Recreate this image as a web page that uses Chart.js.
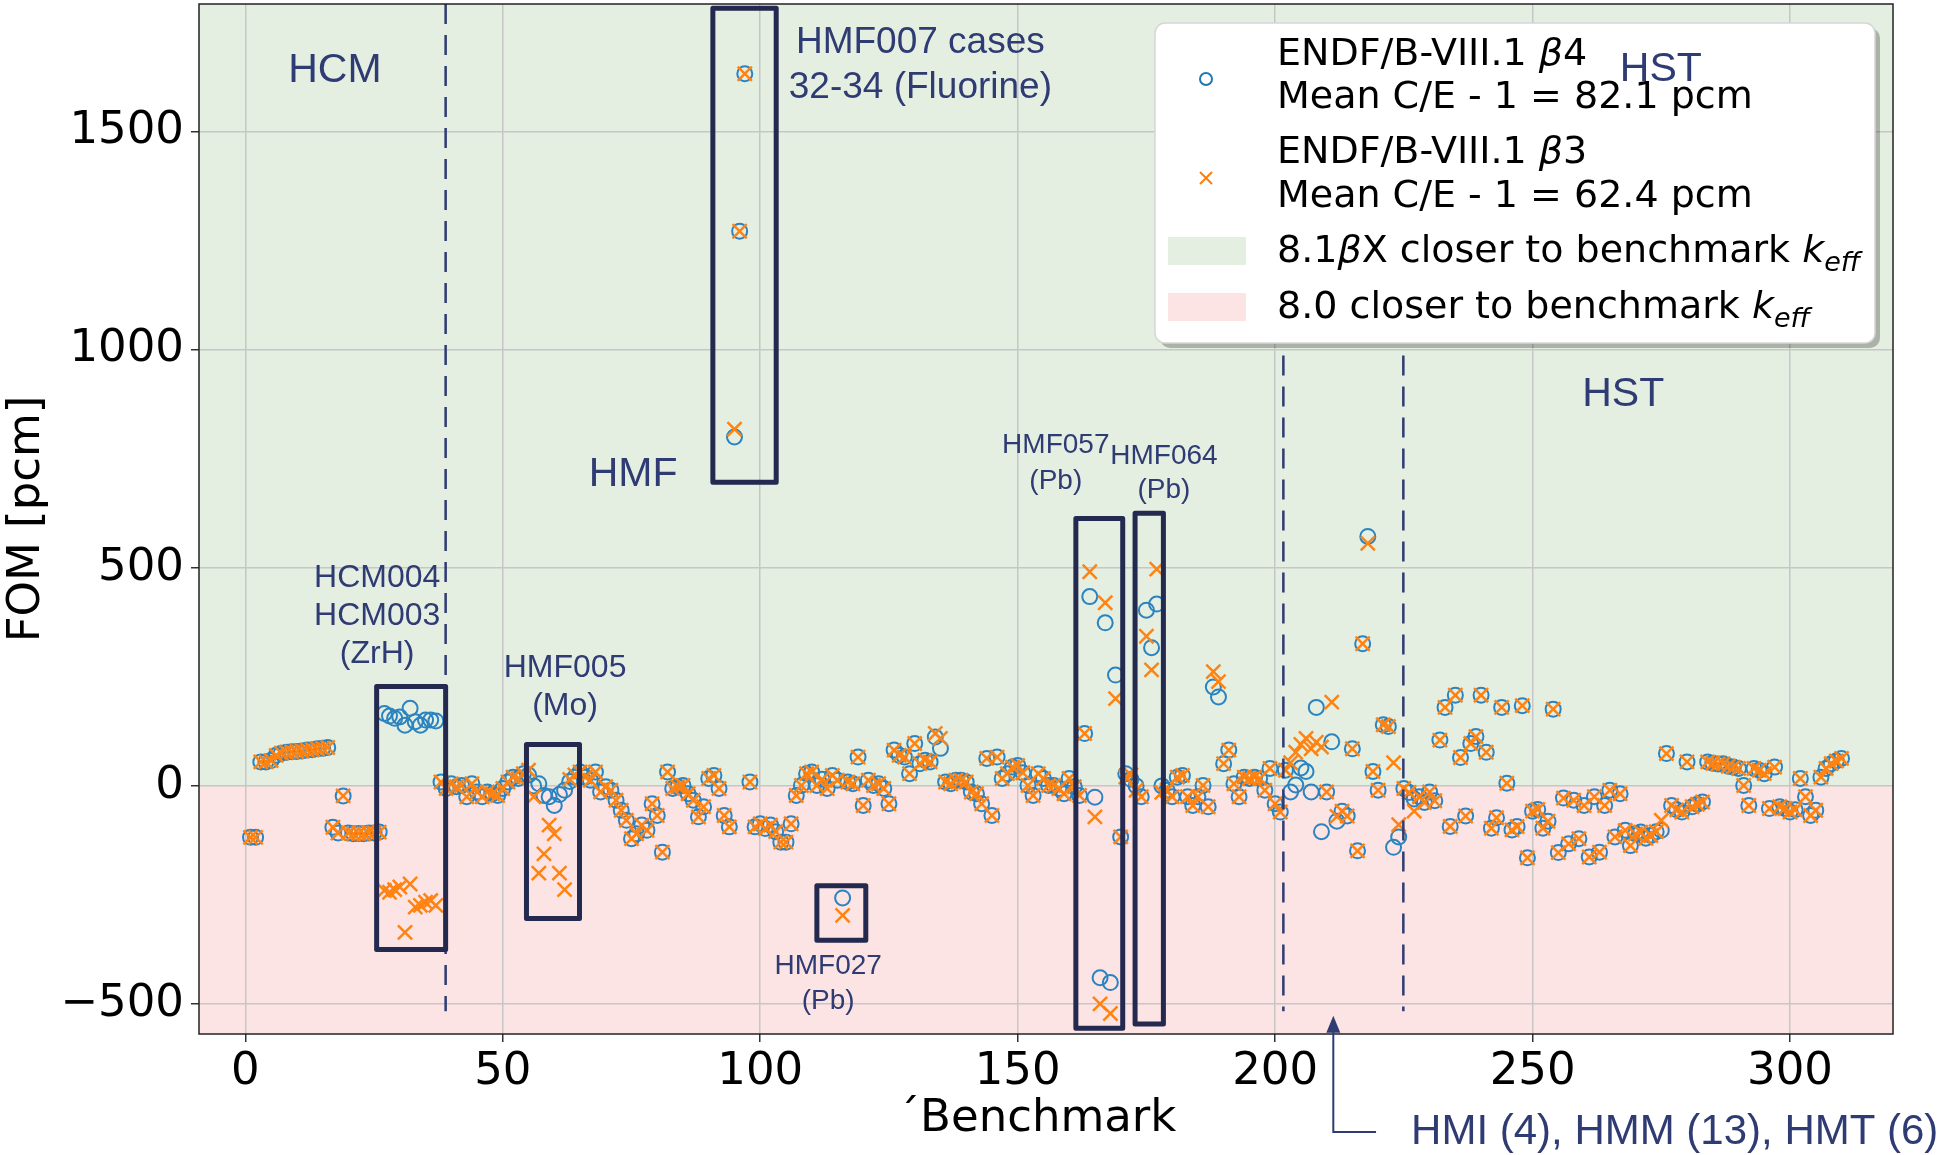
<!DOCTYPE html>
<html>
<head>
<meta charset="utf-8">
<script src="https://cdn.jsdelivr.net/npm/chart.js@4.4.1/dist/chart.umd.min.js"></script>
<style>
  html, body { margin: 0; padding: 0; background: #fff; }
  canvas { display: block; }
</style>
</head>
<body>
<canvas id="fom-chart" width="1946" height="1155"></canvas>
<script>
// FOM [pcm] per benchmark (benchmark number = index + 1)
const fomBeta4 = [
  -118, -118, 55, 55, 58, 70, 75, 77, 78, 79, 80, 82, 83, 85, 86, 88, -95, -108, -23, -108,
  -110, -109, -110, -108, -108, -106, 166, 160, 155, 158, 139, 178, 147, 139, 151, 151, 149, 9, -6, 5,
  -2, 1, -25, 5, -14, -25, -14, -18, -22, -6, 9, 20, 17, 28, 25, 0, 5, -22, -25, -45,
  -20, -10, 10, 20, 32, 20, 13, 32, -14, -2, -10, -33, -56, -79, -121, -110, -90, -102, -41, -68,
  -152, 32, -6, -2, 1, -18, -33, -71, -48, 17, 24, -6, -68, -94, 800, 1272, 1633, 9, -94, -87,
  -98, -90, -105, -129, -129, -87, -22, 1, 28, 32, 1, 15, -6, 24, 13, -257, 9, 5, 66, -45,
  13, 1, 5, -6, -41, 82, 70, 66, 28, 97, 51, 59, 55, 112, 86, 9, 5, 13, 13, 9,
  -14, -18, -41, 63, -68, 66, 17, 28, 43, 47, 30, 1, -22, 28, 17, 1, 1, -6, -18, 17,
  -2, -22, 120, 434, -26, -440, 374, -451, 254, -117, 28, 15, 0, -25, 403, 317, 417, 0, -10, -25,
  20, 24, -25, -45, -25, 1, -48, 227, 204, 51, 82, 5, -25, 20, 17, 20, 17, -10, 40, -41,
  -60, 36, -14, 2, 41, 33, -14, 180, -105, -14, 101, -81, -58, -69, 85, -149, 326, 572, 33, -10,
  140, 136, -141, -117, -6, -15, -30, -25, -38, -14, -34, 105, 180, -93, 208, 65, -69, 97, 113, 208,
  77, -97, -73, 180, 6, -101, -93, 184, -165, -58, -54, -97, -81, 176, -153, -28, -133, -33, -121, -45,
  -163, -25, -152, -45, -10, -117, -18, -102, -137, -110, -106, -120, -114, -105, -102, 74, -45, -55, -60, 55,
  -48, -42, -37, 55, 52, 50, 51, 45, 43, 40, 1, -45, 40, 36, 28, -52, 43, -48, -52, -60,
  -55, 17, -25, -68, -56, 20, 40, 51, 57, 63
];
const fomBeta3 = [
  -118, -118, 55, 55, 58, 70, 75, 77, 78, 79, 80, 82, 83, 85, 86, 88, -95, -108, -23, -108,
  -110, -109, -110, -108, -108, -106, -240, -244, -238, -232, -336, -225, -278, -274, -267, -263, -274, 9, -6, 5,
  -2, 1, -25, 5, -14, -25, -14, -18, -22, -6, 9, 20, 17, 28, 36, -25, -200, -156, -90, -110,
  -200, -238, 15, 25, 32, 20, 13, 32, -14, -2, -10, -33, -56, -79, -121, -110, -90, -102, -41, -68,
  -152, 32, -6, -2, 1, -18, -33, -71, -48, 17, 24, -6, -68, -94, 818, 1272, 1633, 9, -94, -87,
  -98, -90, -105, -129, -129, -87, -22, 1, 28, 32, 1, 15, -6, 24, 13, -297, 9, 5, 66, -45,
  13, 1, 5, -6, -41, 82, 70, 66, 28, 97, 51, 59, 55, 120, 109, 9, 5, 13, 13, 9,
  -14, -18, -41, 63, -68, 66, 17, 28, 43, 47, 30, 1, -22, 28, 17, 1, 1, -6, -18, 17,
  -2, -22, 120, 491, -71, -500, 420, -522, 200, -117, 20, 25, -10, -25, 343, 266, 497, -15, -10, -25,
  20, 24, -25, -45, -25, 1, -48, 262, 239, 51, 82, 5, -25, 20, 17, 20, 17, -10, 40, -41,
  -60, 36, 53, 77, 95, 109, 85, 100, 89, -14, 192, -70, -58, -69, 85, -149, 326, 556, 33, -10,
  140, 136, 53, -89, -6, -15, -58, -25, -38, -14, -34, 105, 180, -93, 208, 65, -69, 97, 113, 208,
  77, -97, -73, 180, 6, -101, -93, 184, -165, -58, -54, -97, -81, 176, -153, -28, -133, -33, -121, -45,
  -163, -25, -152, -45, -10, -117, -18, -102, -137, -110, -106, -120, -114, -105, -79, 74, -45, -55, -60, 55,
  -48, -42, -37, 55, 52, 50, 51, 45, 43, 40, 1, -45, 40, 36, 28, -52, 43, -48, -52, -60,
  -55, 17, -25, -68, -56, 20, 40, 51, 57, 63
];
const seriesNames = [
  ['ENDF/B-VIII.1 ', '4', 'Mean C/E - 1 = 82.1 pcm'],
  ['ENDF/B-VIII.1 ', '3', 'Mean C/E - 1 = 62.4 pcm']
];
const xTicks = [0, 50, 100, 150, 200, 250, 300];
const yTicks = [-500, 0, 500, 1000, 1500];

// annotations, in data units
const regionLabels = [
  { lines: ['HCM'], x: 17.4, y: 1640, size: 41 },
  { lines: ['HMF'], x: 75.3, y: 713, size: 41 },
  { lines: ['HST'], x: 267.6, y: 898, size: 41 },
  { lines: ['HMF007 cases', '32-34 (Fluorine)'], x: 131.1, y: 1703, size: 37, gap: 103 },
  { lines: ['HCM004', 'HCM003', '(ZrH)'], x: 25.6, y: 477, size: 32, gap: 88 },
  { lines: ['HMF005', '(Mo)'], x: 62.1, y: 270, size: 32, gap: 88 },
  { lines: ['HMF057', '(Pb)'], x: 157.4, y: 781, size: 28, gap: 83 },
  { lines: ['HMF064', '(Pb)'], x: 178.4, y: 756, size: 28, gap: 77 },
  { lines: ['HMF027', '(Pb)'], x: 113.2, y: -414, size: 28, gap: 79 }
];
const boxes = [
  [25.5, 38.9, 228, -375],
  [54.6, 64.9, 95, -304],
  [90.8, 103.1, 1783, 696],
  [111.0, 120.5, -229, -354],
  [161.3, 170.4, 613, -556],
  [172.8, 178.3, 625, -546]
];
const dividers = [
  [38.9, 1793, -517],
  [201.6, 987, -517],
  [224.9, 987, -517]
];

const navy = '#2f3b73';
const boxColor = '#23294f';
const greenZone = '#e4efe2';
const pinkZone = '#fde4e4';

function textRuns(ctx, runs, x, y) {
  let cx = x;
  runs.forEach(r => {
    ctx.font = r.font;
    ctx.fillText(r.t, cx, y + (r.dy || 0));
    cx += ctx.measureText(r.t).width;
  });
}

function roundRect(ctx, x, y, w, h, r) {
  ctx.beginPath();
  ctx.moveTo(x + r, y);
  ctx.arcTo(x + w, y, x + w, y + h, r);
  ctx.arcTo(x + w, y + h, x, y + h, r);
  ctx.arcTo(x, y + h, x, y, r);
  ctx.arcTo(x, y, x + w, y, r);
  ctx.closePath();
}

function drawLegend(ctx) {
  const bx = 1155, by = 23, bw = 720, bh = 320;
  ctx.save();
  ctx.fillStyle = 'rgba(0,0,0,0.25)';
  roundRect(ctx, bx + 5, by + 5, bw, bh, 10);
  ctx.fill();
  ctx.fillStyle = '#fff';
  roundRect(ctx, bx, by, bw, bh, 10);
  ctx.fill();
  ctx.strokeStyle = '#d6d6d6';
  ctx.lineWidth = 1.5;
  ctx.stroke();

  const fs = 38;
  const reg = fs + 'px "DejaVu Sans"';
  const ita = 'italic ' + fs + 'px "DejaVu Sans"';
  const sub = 'italic 27px "DejaVu Sans"';
  const tx = 1277;
  ctx.fillStyle = '#000';
  ctx.textBaseline = 'alphabetic';
  ctx.textAlign = 'left';

  // blue circle
  ctx.strokeStyle = '#1f77b4';
  ctx.lineWidth = 2;
  ctx.beginPath();
  ctx.arc(1206, 79, 6, 0, Math.PI * 2);
  ctx.stroke();
  textRuns(ctx, [{ t: seriesNames[0][0], font: reg }, { t: '\u03b2', font: ita }, { t: seriesNames[0][1], font: reg }], tx, 65);
  textRuns(ctx, [{ t: seriesNames[0][2], font: reg }], tx, 108);

  // orange cross
  ctx.strokeStyle = '#ff7f0e';
  ctx.lineWidth = 2;
  ctx.beginPath();
  ctx.moveTo(1200, 172); ctx.lineTo(1212, 184);
  ctx.moveTo(1212, 172); ctx.lineTo(1200, 184);
  ctx.stroke();
  textRuns(ctx, [{ t: seriesNames[1][0], font: reg }, { t: '\u03b2', font: ita }, { t: seriesNames[1][1], font: reg }], tx, 163);
  textRuns(ctx, [{ t: seriesNames[1][2], font: reg }], tx, 207);

  ctx.fillStyle = greenZone;
  ctx.fillRect(1168, 237, 78, 28);
  ctx.fillStyle = pinkZone;
  ctx.fillRect(1168, 293, 78, 28);
  ctx.fillStyle = '#000';
  textRuns(ctx, [{ t: '8.1', font: reg }, { t: '\u03b2', font: ita }, { t: 'X closer to benchmark ', font: reg },
    { t: 'k', font: ita }, { t: 'eff', font: sub, dy: 9 }], tx, 262);
  textRuns(ctx, [{ t: '8.0 closer to benchmark ', font: reg },
    { t: 'k', font: ita }, { t: 'eff', font: sub, dy: 9 }], tx, 318);
  ctx.restore();
}

const decor = {
  id: 'decor',
  beforeDraw(chart) {
    const { ctx, chartArea: a, scales: { y } } = chart;
    const y0 = y.getPixelForValue(0);
    ctx.save();
    ctx.fillStyle = greenZone;
    ctx.fillRect(a.left, a.top, a.right - a.left, y0 - a.top);
    ctx.fillStyle = pinkZone;
    ctx.fillRect(a.left, y0, a.right - a.left, a.bottom - y0);
    ctx.restore();
  },
  afterDatasetsDraw(chart) {
    const { ctx, scales: { x, y } } = chart;
    ctx.save();
    // dashed separators
    ctx.strokeStyle = navy;
    ctx.lineWidth = 2.5;
    ctx.setLineDash([20, 11]);
    dividers.forEach(d => {
      const px = x.getPixelForValue(d[0]);
      ctx.beginPath();
      ctx.moveTo(px, y.getPixelForValue(d[1]));
      ctx.lineTo(px, y.getPixelForValue(d[2]));
      ctx.stroke();
    });
    ctx.setLineDash([]);
    // boxes
    ctx.strokeStyle = boxColor;
    ctx.lineWidth = 5;
    ctx.lineJoin = 'round';
    boxes.forEach(b => {
      const x0 = x.getPixelForValue(b[0]), x1 = x.getPixelForValue(b[1]);
      const y0 = y.getPixelForValue(b[2]), y1 = y.getPixelForValue(b[3]);
      ctx.strokeRect(x0, y0, x1 - x0, y1 - y0);
    });
    // labels
    ctx.fillStyle = navy;
    ctx.textAlign = 'center';
    ctx.textBaseline = 'middle';
    regionLabels.forEach(l => {
      ctx.font = l.size + 'px "Liberation Sans", Arial, sans-serif';
      l.lines.forEach((t, i) => {
        ctx.fillText(t, x.getPixelForValue(l.x), y.getPixelForValue(l.y - i * (l.gap || 0)));
      });
    });
    ctx.restore();
  },
  afterDraw(chart) {
    const { ctx, chartArea: a, scales: { x, y } } = chart;
    ctx.save();
    ctx.strokeStyle = '#222';
    ctx.lineWidth = 1.5;
    ctx.strokeRect(a.left, a.top, a.right - a.left, a.bottom - a.top);
    drawLegend(ctx);

    ctx.fillStyle = navy;
    ctx.textAlign = 'center';
    ctx.textBaseline = 'middle';
    ctx.font = '41px "Liberation Sans", Arial, sans-serif';
    ctx.fillText('HST', x.getPixelForValue(274.9), y.getPixelForValue(1643));

    // x axis title, sits a little left of the plot centre
    ctx.fillStyle = '#000';
    ctx.font = '45px "DejaVu Sans"';
    ctx.fillText('\u00b4Benchmark', 1037, 1119);

    // arrow note for the HMI / HMM / HMT group
    const ax = x.getPixelForValue(211.3);
    const tipY = y.getPixelForValue(-527);
    const rowY = a.bottom + 98;
    ctx.fillStyle = navy;
    ctx.strokeStyle = navy;
    ctx.lineWidth = 2;
    ctx.beginPath();
    ctx.moveTo(x.getPixelForValue(219.6), rowY);
    ctx.lineTo(ax, rowY);
    ctx.lineTo(ax, tipY + 14);
    ctx.stroke();
    ctx.beginPath();
    ctx.moveTo(ax, tipY);
    ctx.lineTo(ax - 7, tipY + 17);
    ctx.lineTo(ax + 7, tipY + 17);
    ctx.closePath();
    ctx.fill();
    ctx.textAlign = 'left';
    ctx.font = '42px "Liberation Sans", Arial, sans-serif';
    ctx.fillText('HMI (4), HMM (13), HMT (6)', x.getPixelForValue(226.4), rowY);
    ctx.restore();
  }
};

const tickFont = { family: '"DejaVu Sans"', size: 45 };

new Chart(document.getElementById('fom-chart'), {
  type: 'scatter',
  data: {
    datasets: [
      {
        label: 'beta4',
        data: fomBeta4.map((v, i) => ({ x: i + 1, y: v })),
        pointStyle: 'circle',
        pointRadius: 7.5,
        borderColor: '#2b83c0',
        backgroundColor: 'rgba(0,0,0,0)',
        pointBorderWidth: 2,
        order: 2
      },
      {
        label: 'beta3',
        data: fomBeta3.map((v, i) => ({ x: i + 1, y: v })),
        pointStyle: 'crossRot',
        pointRadius: 10,
        borderColor: '#ff8312',
        backgroundColor: '#ff8312',
        pointBorderWidth: 2.5,
        order: 1
      }
    ]
  },
  options: {
    responsive: false,
    animation: false,
    layout: { autoPadding: false, padding: { top: 4, right: 53, left: 0, bottom: 0 } },
    plugins: { legend: { display: false }, tooltip: { enabled: false } },
    scales: {
      x: {
        type: 'linear',
        min: -9,
        max: 320,
        afterFit(s) { s.height = 121; s.paddingLeft = 0; s.paddingRight = 0; },
        afterBuildTicks(s) { s.ticks = xTicks.map(v => ({ value: v })); },
        ticks: { font: tickFont, color: '#000', padding: 3, maxRotation: 0 },
        grid: { color: '#c6c6c6', lineWidth: 1.5, tickLength: 8, tickColor: '#333', tickWidth: 1.5 },
        border: { display: false }
      },
      y: {
        type: 'linear',
        min: -569,
        max: 1793,
        afterFit(s) { s.width = 199; s.paddingTop = 0; s.paddingBottom = 0; },
        afterBuildTicks(s) { s.ticks = yTicks.map(v => ({ value: v })); },
        ticks: { font: tickFont, color: '#000', padding: 7,
          callback: v => (v < 0 ? '\u2212' + Math.abs(v) : String(v)) },
        grid: { color: '#c6c6c6', lineWidth: 1.5, tickLength: 8, tickColor: '#333', tickWidth: 1.5 },
        border: { display: false },
        title: { display: true, text: 'FOM [pcm]', color: '#000', font: tickFont, padding: { top: 0, bottom: 0 } }
      }
    }
  },
  plugins: [decor]
});
</script>
</body>
</html>
